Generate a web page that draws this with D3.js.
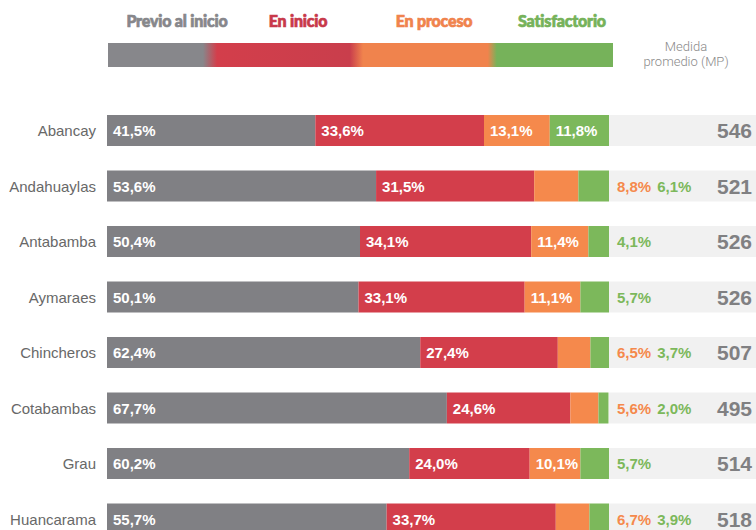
<!DOCTYPE html>
<meta charset="utf-8">

<head>
    <title>Niveles de logro por provincia</title>
</head>

<style>
    body {
        margin: 0;
        background-color: #ffffff;
        font-family: "Liberation Sans", Arial, sans-serif;
    }

    .cat {
        font-size: 15px;
        fill: #686868;
    }

    .pct {
        font-size: 15px;
        font-weight: 700;
    }

    .mp {
        font-size: 21px;
        font-weight: 700;
        fill: #808082;
    }

    .legend {
        font-family: Lato, Roboto, Arial;
        font-size: 16px;
        font-weight: 900;
        letter-spacing: -0.2px;
        stroke-width: 0.7px;
    }

    .mphead {
        font-family: Roboto, Arial;
        font-size: 13px;
        font-weight: 300;
        fill: #8a8a8a;
    }
</style>

<body>
    <svg width="756" height="530"></svg>
</body>

<script src="https://d3js.org/d3.v7.min.js"></script>

<script>
    var provincias = ["Abancay", "Andahuaylas", "Antabamba", "Aymaraes", "Chincheros", "Cotabambas", "Grau", "Huancarama"];
    var niveles = ["Previo al inicio", "En inicio", "En proceso", "Satisfactorio"];
    var previo = [41.5, 53.6, 50.4, 50.1, 62.4, 67.7, 60.2, 55.7];
    var inicio = [33.6, 31.5, 34.1, 33.1, 27.4, 24.6, 24.0, 33.7];
    var proceso = [13.1, 8.8, 11.4, 11.1, 6.5, 5.6, 10.1, 6.7];
    var satisf = [11.8, 6.1, 4.1, 5.7, 3.7, 2.0, 5.7, 3.9];
    var medida = [546, 521, 526, 526, 507, 495, 514, 518];

    var colores = ["#808084", "#d33e4b", "#f5894c", "#7cb85b"];
    var legendColores = ["#87878b", "#c8394a", "#f0834d", "#76b25a"];

    var svg = d3.select("svg");

    var x = d3.scaleLinear()
        .domain([0, 100])
        .range([107, 609]);

    var y = d3.scaleBand()
        .domain(provincias)
        .range([115, 115 + 7 * 55.5 + 31])
        .paddingInner(24.5 / 55.5)
        .paddingOuter(0);

    var bh = y.bandwidth();

    // stack the four levels
    var rows = provincias.map(function (p, i) {
        var vals = [previo[i], inicio[i], proceso[i], satisf[i]];
        var acc = 0;
        var segs = vals.map(function (v, k) {
            var s = { name: p, k: k, v: v, x0: acc, x1: acc + v };
            acc += v;
            return s;
        });
        return { name: p, segs: segs, mp: medida[i] };
    });

    // legend gradient bar
    var defs = svg.append("defs");
    var grad = defs.append("linearGradient")
        .attr("id", "leg")
        .attr("x1", "0%").attr("x2", "100%")
        .attr("y1", "0%").attr("y2", "0%");

    var stops = [
        [0, legendColores[0]], [0.188, legendColores[0]],
        [0.216, "#d33e4b"], [0.479, "#c93e4c"],
        [0.505, legendColores[2]], [0.752, legendColores[2]],
        [0.770, legendColores[3]], [1, legendColores[3]]
    ];
    grad.selectAll("stop")
        .data(stops)
        .enter()
        .append("stop")
        .attr("offset", d => d[0])
        .attr("stop-color", d => d[1]);

    svg.append("rect")
        .attr("x", 108)
        .attr("y", 43)
        .attr("width", 505)
        .attr("height", 24)
        .attr("fill", "url(#leg)");

    var legendX = [177, 298, 434, 562];
    svg.selectAll("text.legend")
        .data(niveles)
        .enter()
        .append("text")
        .attr("class", "legend")
        .attr("x", (d, i) => legendX[i])
        .attr("y", 27)
        .attr("text-anchor", "middle")
        .attr("fill", (d, i) => legendColores[i])
        .attr("stroke", (d, i) => legendColores[i])
        .text(d => d);

    var head = svg.append("text")
        .attr("class", "mphead")
        .attr("text-anchor", "middle")
        .attr("y", 50.5);
    head.append("tspan").attr("x", 686).text("Medida");
    head.append("tspan").attr("x", 686).attr("dy", 15.5).text("promedio (MP)");

    var g = svg.selectAll("g.row")
        .data(rows)
        .enter()
        .append("g")
        .attr("class", "row")
        .attr("transform", d => "translate(0," + y(d.name) + ")");

    // grey panel behind MP
    g.append("rect")
        .attr("x", x(100))
        .attr("y", 0)
        .attr("width", 756 - x(100))
        .attr("height", bh)
        .attr("fill", "#f1f1f1");

    g.selectAll("rect.seg")
        .data(d => d.segs)
        .enter()
        .append("rect")
        .attr("class", "seg")
        .attr("x", d => x(d.x0))
        .attr("width", d => x(d.x1) - x(d.x0))
        .attr("y", 0)
        .attr("height", bh)
        .attr("fill", d => colores[d.k]);

    g.append("text")
        .attr("class", "cat")
        .attr("x", 96)
        .attr("y", bh / 2 + 5.5)
        .attr("text-anchor", "end")
        .text(d => d.name);

    var fmt = v => v.toFixed(1).replace(".", ",") + "%";

    // labels that fit go inside, small ones go to the right
    g.selectAll("text.in")
        .data(d => d.segs.filter(s => s.k < 2 || s.v >= 10))
        .enter()
        .append("text")
        .attr("class", "pct in")
        .attr("x", d => x(d.x0) + 6)
        .attr("y", bh / 2 + 5.5)
        .attr("fill", "#ffffff")
        .text(d => fmt(d.v));

    g.each(function (d) {
        var out = d.segs.filter(s => s.k >= 2 && s.v < 10);
        var cx = x(100) + 8;
        var row = d3.select(this);
        out.forEach(function (s) {
            var t = row.append("text")
                .attr("class", "pct")
                .attr("x", cx)
                .attr("y", bh / 2 + 5.5)
                .attr("fill", colores[s.k])
                .text(fmt(s.v));
            cx += t.node().getComputedTextLength() + 6;
        });
    });

    g.append("text")
        .attr("class", "mp")
        .attr("x", 752)
        .attr("y", bh / 2 + 7.5)
        .attr("text-anchor", "end")
        .text(d => d.mp);
</script>
